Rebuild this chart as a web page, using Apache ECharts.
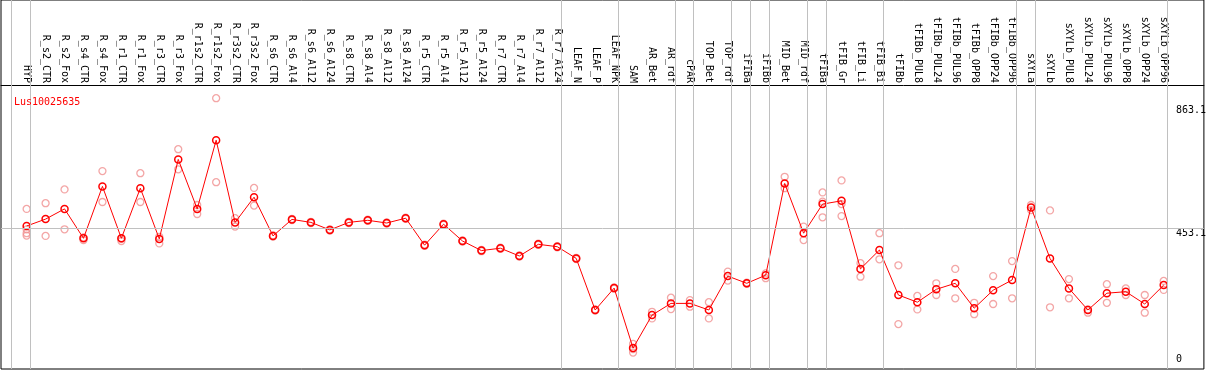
<!DOCTYPE html>
<html><head><meta charset="utf-8">
<script src="https://cdn.jsdelivr.net/npm/echarts@6/dist/echarts.min.js"></script>
<style>html,body{margin:0;padding:0;background:#fff}#c{width:1209px;height:370px}</style>
</head><body><div id="c"></div>
<script>
const categories = ["HYP","R_s2_CTR","R_s2_Fox","R_s4_CTR","R_s4_Fox","R_r1_CTR","R_r1_Fox","R_r3_CTR","R_r3_Fox","R_r1s2_CTR","R_r1s2_Fox","R_r3s2_CTR","R_r3s2_Fox","R_s6_CTR","R_s6_Al4","R_s6_Al12","R_s6_Al24","R_s8_CTR","R_s8_Al4","R_s8_Al12","R_s8_Al24","R_r5_CTR","R_r5_Al4","R_r5_Al12","R_r5_Al24","R_r7_CTR","R_r7_Al4","R_r7_Al12","R_r7_Al24","LEAF_N","LEAF_P","LEAF_NPK","SAM","AR_Bet","AR_rdf","cPAR","TOP_Bet","TOP_rdf","iFIBa","iFIBb","MID_Bet","MID_rdf","tFIBa","tFIB_Gr","tFIB_Li","tFIB_Bi","tFIBb","tFIBb_PUL8","tFIBb_PUL24","tFIBb_PUL96","tFIBb_OPP8","tFIBb_OPP24","tFIBb_OPP96","sXYLa","sXYLb","sXYLb_PUL8","sXYLb_PUL24","sXYLb_PUL96","sXYLb_OPP8","sXYLb_OPP24","sXYLb_OPP96"];
const groupSizes = [1, 28, 3, 3, 1, 2, 1, 1, 2, 1, 3, 7, 1, 7];
const means = [460,483,517,419,592,419,586,417,682,517,746,472,556,427,482,472,447,472,479,470,486,396,466,410,378,386,360,399,391,352,180,253,53,163,202,202,180,293,269,296,602,436,533,544,317,380,230,206,249,269,186,246,280,522,352,252,180,236,241,200,263];
const rep1 = [517,536,582,422,643,417,636,424,716,530,886,486,587,429,484,474,449,474,481,472,488,398,468,412,380,388,362,401,393,354,182,255,67,174,221,213,206,308,271,302,624,458,572,612,336,436,329,227,269,317,204,293,343,530,512,283,182,266,252,230,277];
const rep2 = [449,427,449,413,540,410,540,402,649,500,606,458,528,425,480,470,445,470,477,468,484,394,464,408,376,384,358,397,389,350,178,251,38,152,183,191,152,278,267,286,586,413,489,493,291,349,133,182,230,219,166,200,219,513,189,219,171,204,230,171,247];
const rep3 = [436,null,null,null,null,null,null,null,null,null,null,null,null,null,null,null,null,null,null,null,null,null,null,null,null,null,null,null,null,null,null,null,50,null,null,null,null,null,null,null,null,null,541,533,null,null,null,null,null,null,null,null,null,null,null,null,null,null,null,null,null];
const rep4 = [428,null,null,null,null,null,null,null,null,null,null,null,null,null,null,null,null,null,null,null,null,null,null,null,null,null,null,null,null,null,null,null,null,null,null,null,null,null,null,null,null,null,null,null,null,null,null,null,null,null,null,null,null,null,null,null,null,null,null,null,null];
const yTickLabels = [453.1, 863.1];
const yZeroLabel = [0];
const gridValue = 453.1;
const geneName = "Lus10025635";

// layout constants
const GRID_W = 1206, STEP = 19, FIRST_X = 25.7;
const xMin = -FIRST_X / STEP;
const xMax = xMin + GRID_W / STEP;
const PX_PER_UNIT = 0.3, ZERO_Y = 364, GRID_H = 369;
const yMax = ZERO_Y / PX_PER_UNIT;
const yMin = -(GRID_H - ZERO_Y) / PX_PER_UNIT;

const lineData = means.map((v, i) => [i, v]);
const repData = [];
[rep1, rep2, rep3, rep4].forEach(arr => arr.forEach((v, i) => { if (v !== null) repData.push([i, v]); }));

const sepValues = [-1];
let acc = -1;
groupSizes.forEach(s => { acc += s; sepValues.push(acc); });
const SEP_OFF = 0.2;

const FONT = 'DejaVu Sans Mono';

const chart = echarts.init(document.getElementById('c'), null, {renderer: 'canvas'});
const yAxisBase = {
  type: 'value', position: 'right', min: yMin, max: yMax,
  axisLine: {show: false}, axisTick: {show: false}, splitLine: {show: false}
};
chart.setOption({
  animation: false,
  title: {text: geneName, left: 9, top: 92, textStyle: {color: '#ff0000', fontFamily: FONT, fontSize: 10, fontWeight: 'normal'}},
  grid: {left: 1, right: 2, top: 0, bottom: 1, show: true, borderColor: '#000', borderWidth: 1, backgroundColor: 'transparent'},
  xAxis: {
    type: 'value', position: 'top', offset: -85, min: xMin, max: xMax,
    axisLine: {show: true, onZero: false, lineStyle: {color: '#000', width: 1}},
    axisTick: {show: false}, splitLine: {show: false},
    axisLabel: {
      customValues: categories.map((c, i) => i),
      formatter: v => categories[Math.round(v)],
      rotate: 90, margin: 2, fontFamily: FONT, fontSize: 10, color: '#000',
      showMinLabel: true, showMaxLabel: true, hideOverlap: false
    }
  },
  yAxis: [
    Object.assign({}, yAxisBase, {axisLabel: {customValues: yTickLabels, inside: true, margin: 28, align: 'left', verticalAlign: 'top', fontFamily: FONT, fontSize: 10, color: '#000', showMinLabel: true, showMaxLabel: true}}),
    Object.assign({}, yAxisBase, {axisLabel: {customValues: yZeroLabel, inside: true, margin: 28, align: 'left', verticalAlign: 'bottom', fontFamily: FONT, fontSize: 10, color: '#000', showMinLabel: true, showMaxLabel: true}})
  ],
  series: [
    {
      type: 'scatter', z: 2, data: repData, symbol: 'circle', symbolSize: 7,
      itemStyle: {color: 'rgba(255,255,255,0)', borderColor: '#f09090', borderWidth: 1.3},
      silent: true,
      markLine: {
        silent: true, symbol: 'none', animation: false, label: {show: false},
        lineStyle: {color: '#c0c0c0', width: 1, type: 'solid'},
        data: sepValues.map(v => ({xAxis: v + SEP_OFF})).concat([{yAxis: gridValue}])
      }
    },
    {
      type: 'line', z: 3, data: lineData, symbol: 'circle', symbolSize: 7,
      itemStyle: {color: 'rgba(255,255,255,0)', borderColor: '#ff0000', borderWidth: 1.5},
      lineStyle: {color: '#ff0000', width: 1}, silent: true
    }
  ]
});
</script></body></html>
